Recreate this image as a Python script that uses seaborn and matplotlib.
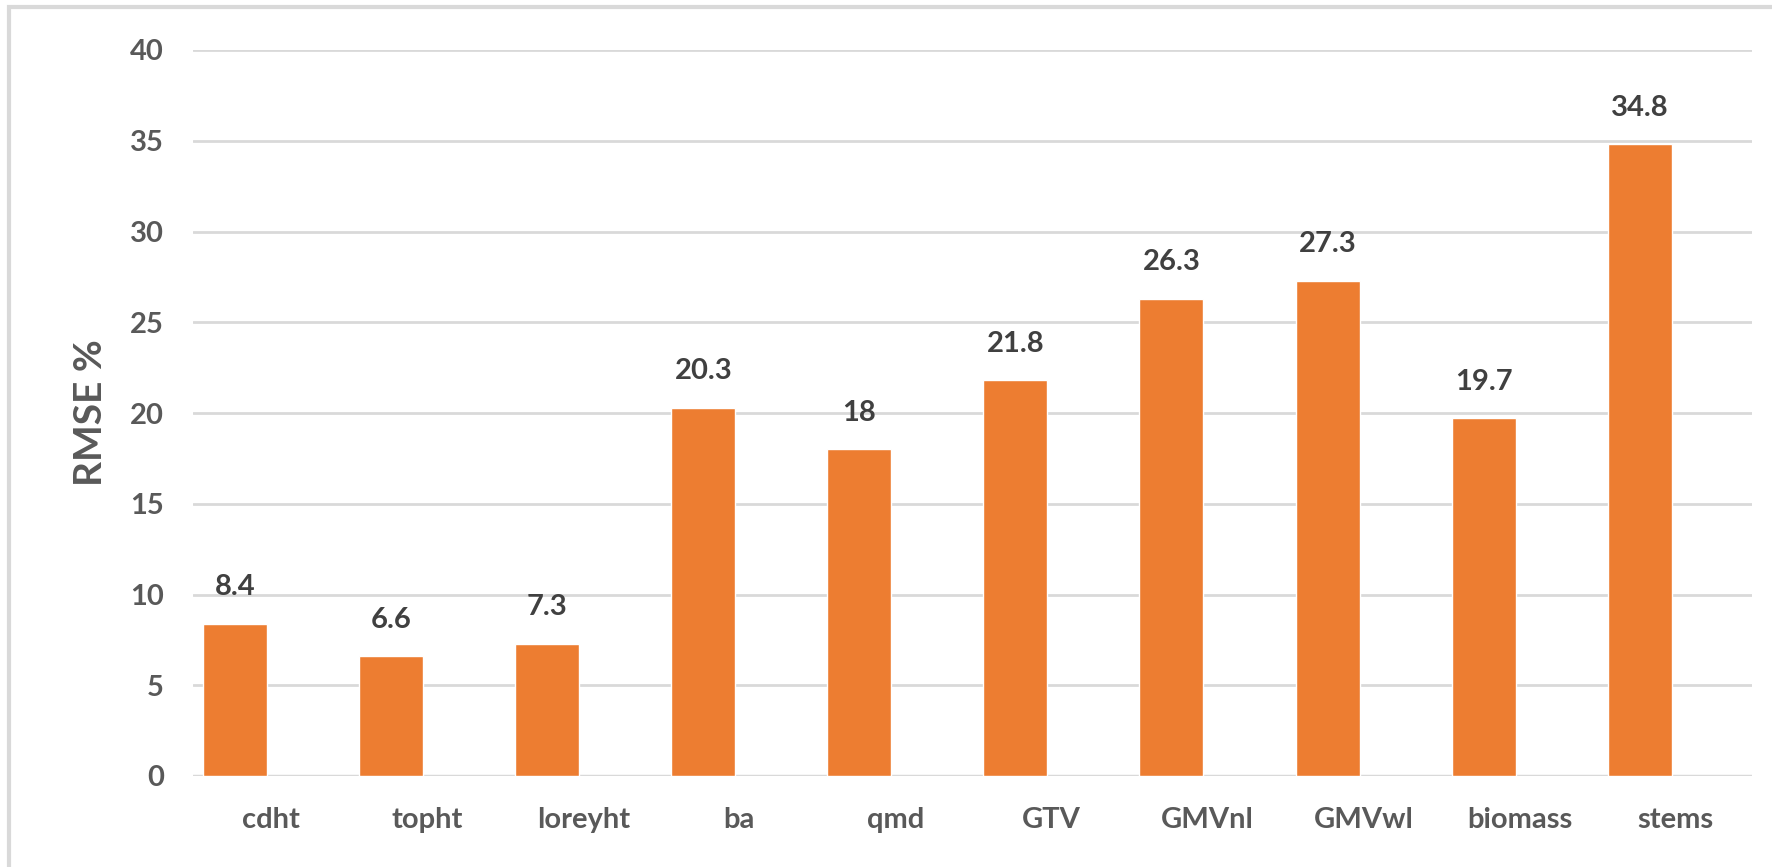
import matplotlib
matplotlib.use("Agg")
import matplotlib.pyplot as plt
import matplotlib.transforms as mtransforms
import seaborn as sns
import pandas as pd
from matplotlib.patches import Rectangle

categories = ['cdht', 'topht', 'loreyht', 'ba', 'qmd', 'GTV', 'GMVnl', 'GMVwl', 'biomass', 'stems']
rmse = [8.4, 6.6, 7.3, 20.3, 18, 21.8, 26.3, 27.3, 19.7, 34.8]
bar_labels = ['8.4', '6.6', '7.3', '20.3', '18', '21.8', '26.3', '27.3', '19.7', '34.8']
yticks = [0, 5, 10, 15, 20, 25, 30, 35, 40]

sns.set_theme(style="white")
plt.rcParams['font.family'] = ['Lato', 'DejaVu Sans']

W, H = 1772, 867
fig = plt.figure(figsize=(W / 100, H / 100), dpi=100)
ax = fig.add_axes([193 / W, 1 - 776 / H, (1752 - 193) / W, (776 - 50) / H])

df = pd.DataFrame({'cat': categories, 'rmse': rmse})
sns.barplot(data=df, x='cat', y='rmse', color='#ED7D31', saturation=1, width=0.41, ax=ax)

# excel-like plot area: bars start a bit left, extra room on the right
ax.set_xlim(-0.27, len(categories) - 0.28)
ax.set_ylim(0, 40)
ax.set_yticks(yticks)
ax.yaxis.grid(True, color='#D9D9D9', linewidth=2)
ax.set_axisbelow(True)
for s in ax.spines.values():
    s.set_visible(False)
ax.axhline(0, color='#D9D9D9', linewidth=2.5, zorder=0.5)

text_color = '#595959'
ax.tick_params(axis='y', length=0, pad=21, labelsize=21, labelcolor=text_color)
ax.tick_params(axis='x', length=0, pad=22, labelsize=21, labelcolor=text_color)
shift = mtransforms.ScaledTranslation(0.36, 0, fig.dpi_scale_trans)
for lbl in ax.get_xticklabels():
    lbl.set_fontweight('bold')
    lbl.set_transform(lbl.get_transform() + shift)
for lbl in ax.get_yticklabels():
    lbl.set_fontweight('bold')

ax.set_xlabel('')
ax.set_ylabel('RMSE %', fontsize=28, fontweight='bold', color=text_color, labelpad=16)

for i, (v, t) in enumerate(zip(rmse, bar_labels)):
    ax.annotate(t, (i, v), xytext=(0, 17), textcoords='offset points', ha='center', va='bottom',
                fontsize=21, fontweight='bold', color='#404040')

# outer chart frame (light gray, running off right and bottom)
fig.patches.append(Rectangle((9 / W, -0.05), 1.1, 1 - 7 / H + 0.05, transform=fig.transFigure,
                             fill=False, edgecolor='#D9D9D9', linewidth=3))

fig.savefig('out.png', dpi=100)
